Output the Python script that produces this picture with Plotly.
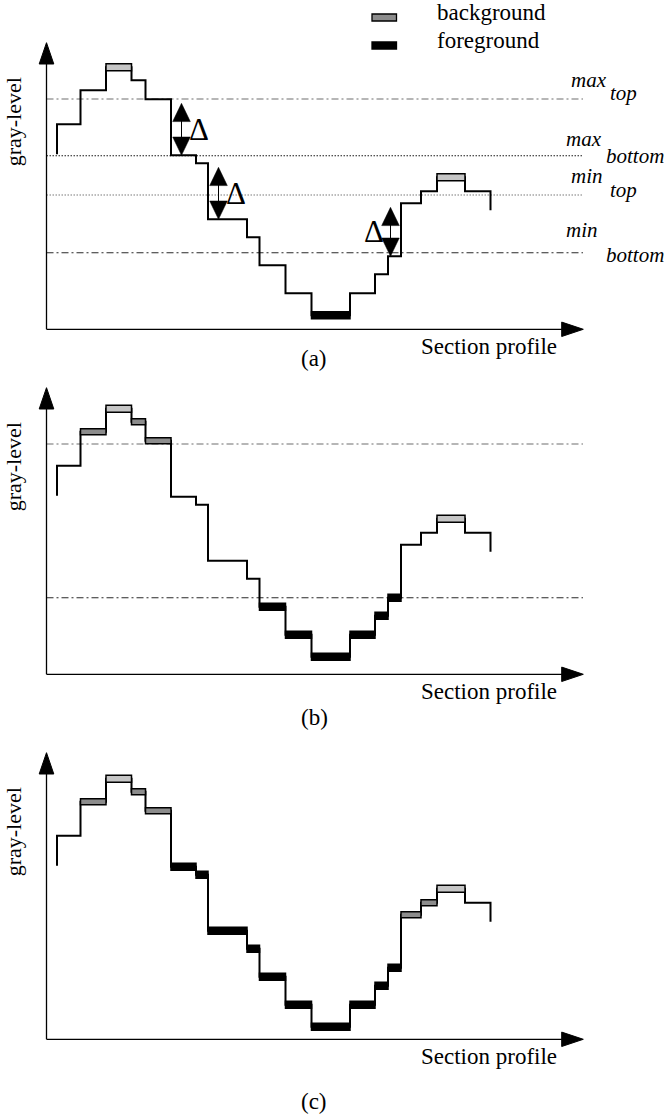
import plotly.graph_objects as go

W, H = 665, 1116

# ------------------------------------------------------------------ data
# section profile: boundaries of the piece-wise constant gray-level samples
seg_edges = [57, 80.5, 106, 131.5, 145.5, 171, 196, 208, 247, 259.5,
             285.5, 311.5, 350, 375, 388, 401, 421, 437, 465, 490.5]
# gray-level of every sample (height above the section-profile axis)
gray_levels = [205, 239, 262, 249, 230, 174, 166, 110, 92, 64,
               36, 14, 36, 55, 73, 126, 138, 152, 138]
gray_start = 175
gray_end = 119

# thresholds
thr_names = ["max", "max", "min", "min"]
thr_subs = ["top", "bottom", "top", "bottom"]
thr_levels = [230.3, 173.5, 134.3, 76.6]

# classification of each sample in panels (a), (b), (c)
# B = background (peak), b = background, F = foreground, '' = none
marks_a = ["", "", "B", "", "", "", "", "", "", "", "", "F", "", "", "", "", "", "B", ""]
marks_b = ["", "b", "B", "b", "b", "", "", "", "", "F", "F", "F", "F", "F", "F", "", "", "B", ""]
marks_c = ["", "b", "B", "b", "b", "F", "F", "F", "F", "F", "F", "F", "F", "F", "F", "b", "b", "B", ""]

panel_labels = ["(a)", "(b)", "(c)"]
panel_thresholds = [[0, 1, 2, 3], [0, 3], []]

# jumps marked with a delta in panel (a): index of the sample after the jump
delta_jumps = [5, 7, 15]

legend_labels = ["background", "foreground"]
axis_title_x = "Section profile"
axis_title_y = "gray-level"

# ------------------------------------------------------------------ style / layout
SERIF = "Liberation Serif"
axis_rows = [329.3, 674.3, 1039.3]   # pixel row of each panel's horizontal axis
profile_shift = [0, 3.5, -1.5]       # small drawing offset of the profile per panel
label_rows = [358, 717, 1101]
Y_AXIS_X = 46.5
Y_TOP = 286.6
X_END = 583.3
THR_X0, THR_X1 = 46.5, 583
mark_fill = {"B": "#c6c6c6", "b": "#8c8c8c", "F": "#000000"}
mark_h = {"B": 7, "b": 6, "F": 7}
thr_dash = ["7px,3px,2px,3px", "1.5px,1.5px", "1.5px,1.5px", "7px,3px,2px,3px"]
thr_color = ["#6e6e6e", "#1a1a1a", "#7a7a7a", "#2a2a2a"]
thr_main_x = [570, 565, 570, 565]
thr_sub_x = [609, 605, 609, 605]
thr_main_up = [12.3, 9.3, 11.7, 16]
thr_sub_down = [1.4, 7.5, 2.0, 9.3]
FS = 23
FS_IT = 21
C_OFF = 0.3375  # baseline -> text box centre (em)

marks_all = [marks_a, marks_b, marks_c]

fig = go.Figure()
shapes = []
annotations = []
layout_axes = {}

for k in range(3):
    sx = "" if k == 0 else str(k + 1)
    xr, yr = "x" + sx, "y" + sx
    base = -profile_shift[k]                 # axis position in data units
    row0 = axis_rows[k] + base               # pixel row of gray-level 0
    layout_axes["xaxis" + sx] = dict(domain=[0, 1], range=[0, W], visible=False,
                                     anchor=yr, fixedrange=True)
    layout_axes["yaxis" + sx] = dict(domain=[0, 1], range=[row0 - H, row0], visible=False,
                                     anchor=xr, fixedrange=True)

    # thresholds
    for t in panel_thresholds[k]:
        ty = thr_levels[t] + base
        shapes.append(dict(type="line", xref=xr, yref=yr, x0=THR_X0, x1=THR_X1,
                           y0=ty, y1=ty, layer="below",
                           line=dict(color=thr_color[t], width=1.1, dash=thr_dash[t])))
        if k == 0:
            annotations.append(dict(xref=xr, yref=yr, x=thr_main_x[t] - 1,
                                    y=ty + thr_main_up[t] + C_OFF * FS_IT,
                                    text="<i>%s</i>" % thr_names[t], showarrow=False,
                                    xanchor="left", yanchor="middle",
                                    font=dict(family=SERIF, size=FS_IT, color="black")))
            annotations.append(dict(xref=xr, yref=yr, x=thr_sub_x[t] - 1,
                                    y=ty - thr_sub_down[t] + C_OFF * FS_IT,
                                    text="<i>%s</i>" % thr_subs[t], showarrow=False,
                                    xanchor="left", yanchor="middle",
                                    font=dict(family=SERIF, size=FS_IT, color="black")))

    # profile
    fig.add_trace(go.Scatter(x=[seg_edges[0]] + seg_edges,
                             y=[gray_start] + gray_levels + [gray_end],
                             mode="lines", line=dict(shape="hv", color="black", width=2),
                             xaxis=xr, yaxis=yr, hoverinfo="skip", showlegend=False))

    # classified samples
    for i, m in enumerate(marks_all[k]):
        if not m:
            continue
        h = mark_h[m]
        shapes.append(dict(type="rect", xref=xr, yref=yr,
                           x0=seg_edges[i], x1=seg_edges[i + 1],
                           y0=gray_levels[i] - h / 2, y1=gray_levels[i] + h / 2,
                           fillcolor=mark_fill[m], line=dict(color="black", width=1.5)))

    # axes with arrows
    shapes.append(dict(type="line", xref=xr, yref=yr, x0=Y_AXIS_X, x1=Y_AXIS_X,
                       y0=base, y1=base + Y_TOP - 15, line=dict(color="black", width=1.3)))
    shapes.append(dict(type="path", xref=xr, yref=yr,
                       path="M %.1f,%.1f L %.1f,%.1f L %.1f,%.1f Z" % (
                           Y_AXIS_X, base + Y_TOP, Y_AXIS_X - 7.3, base + Y_TOP - 21.3,
                           Y_AXIS_X + 7.3, base + Y_TOP - 21.3),
                       fillcolor="black", line=dict(color="black", width=1)))
    shapes.append(dict(type="line", xref=xr, yref=yr, x0=Y_AXIS_X, x1=X_END - 15,
                       y0=base, y1=base, line=dict(color="black", width=1.3)))
    shapes.append(dict(type="path", xref=xr, yref=yr,
                       path="M %.1f,%.1f L %.1f,%.1f L %.1f,%.1f Z" % (
                           X_END, base, X_END - 21.6, base + 7.2, X_END - 21.6, base - 7.2),
                       fillcolor="black", line=dict(color="black", width=1)))

    annotations.append(dict(xref=xr, yref=yr, x=13, y=base + 207, text=axis_title_y,
                            textangle=-90, showarrow=False, xanchor="center", yanchor="middle",
                            font=dict(family=SERIF, size=22, color="black")))
    annotations.append(dict(xref=xr, yref=yr, x=559, y=base - (25 - C_OFF * FS),
                            text=axis_title_x, showarrow=False, xanchor="right",
                            yanchor="middle",
                            font=dict(family=SERIF, size=FS, color="black")))
    annotations.append(dict(xref=xr, yref=yr, x=314, y=row0 - label_rows[k],
                            text=panel_labels[k], showarrow=False,
                            xanchor="center", yanchor="middle",
                            font=dict(family=SERIF, size=FS, color="black")))

    # delta arrows (panel a)
    if k == 0:
        for j in delta_jumps:
            a, b = gray_levels[j - 1], gray_levels[j]
            lo, hi = min(a, b), max(a, b)
            side = 1 if b < a else -1
            ax = seg_edges[j] + side * 10.5
            top_tip, bot_tip = hi - 4, lo
            hw, hh = 8.8, 18.3
            shapes.append(dict(type="line", xref=xr, yref=yr, x0=ax, x1=ax,
                               y0=bot_tip + hh - 1, y1=top_tip - hh + 1,
                               line=dict(color="black", width=1)))
            shapes.append(dict(type="path", xref=xr, yref=yr,
                               path="M %.1f,%.1f L %.1f,%.1f L %.1f,%.1f Z" % (
                                   ax, top_tip, ax - hw, top_tip - hh, ax + hw, top_tip - hh),
                               fillcolor="black", line=dict(color="black", width=0.5)))
            shapes.append(dict(type="path", xref=xr, yref=yr,
                               path="M %.1f,%.1f L %.1f,%.1f L %.1f,%.1f Z" % (
                                   ax, bot_tip, ax - hw, bot_tip + hh, ax + hw, bot_tip + hh),
                               fillcolor="black", line=dict(color="black", width=0.5)))
            annotations.append(dict(xref=xr, yref=yr, x=ax + side * 17, y=(lo + hi) / 2 - 2,
                                    text="\u0394", showarrow=False,
                                    xanchor="center", yanchor="middle",
                                    font=dict(family=SERIF, size=31, color="black")))

# legend
legend_rows = [17.5, 45.5]
legend_fill = [mark_fill["b"], "#000000"]
for i, lab in enumerate(legend_labels):
    r = legend_rows[i]
    shapes.append(dict(type="rect", xref="paper", yref="paper",
                       x0=372 / W, x1=396.5 / W, y0=1 - (r + 3.5) / H, y1=1 - (r - 3.5) / H,
                       fillcolor=legend_fill[i], line=dict(color="black", width=1.3)))
    annotations.append(dict(xref="paper", yref="paper", x=435 / W,
                            y=1 - (r + 3 - C_OFF * FS) / H, text=lab, showarrow=False,
                            xanchor="left", yanchor="middle",
                            font=dict(family=SERIF, size=FS, color="black")))

fig.update_layout(width=W, height=H, margin=dict(l=0, r=0, t=0, b=0),
                  paper_bgcolor="white", plot_bgcolor="rgba(0,0,0,0)",
                  shapes=shapes, annotations=annotations, showlegend=False,
                  **layout_axes)

fig.write_html("out.html", post_script="document.body.style.margin='0';",
               config={"displayModeBar": False})
